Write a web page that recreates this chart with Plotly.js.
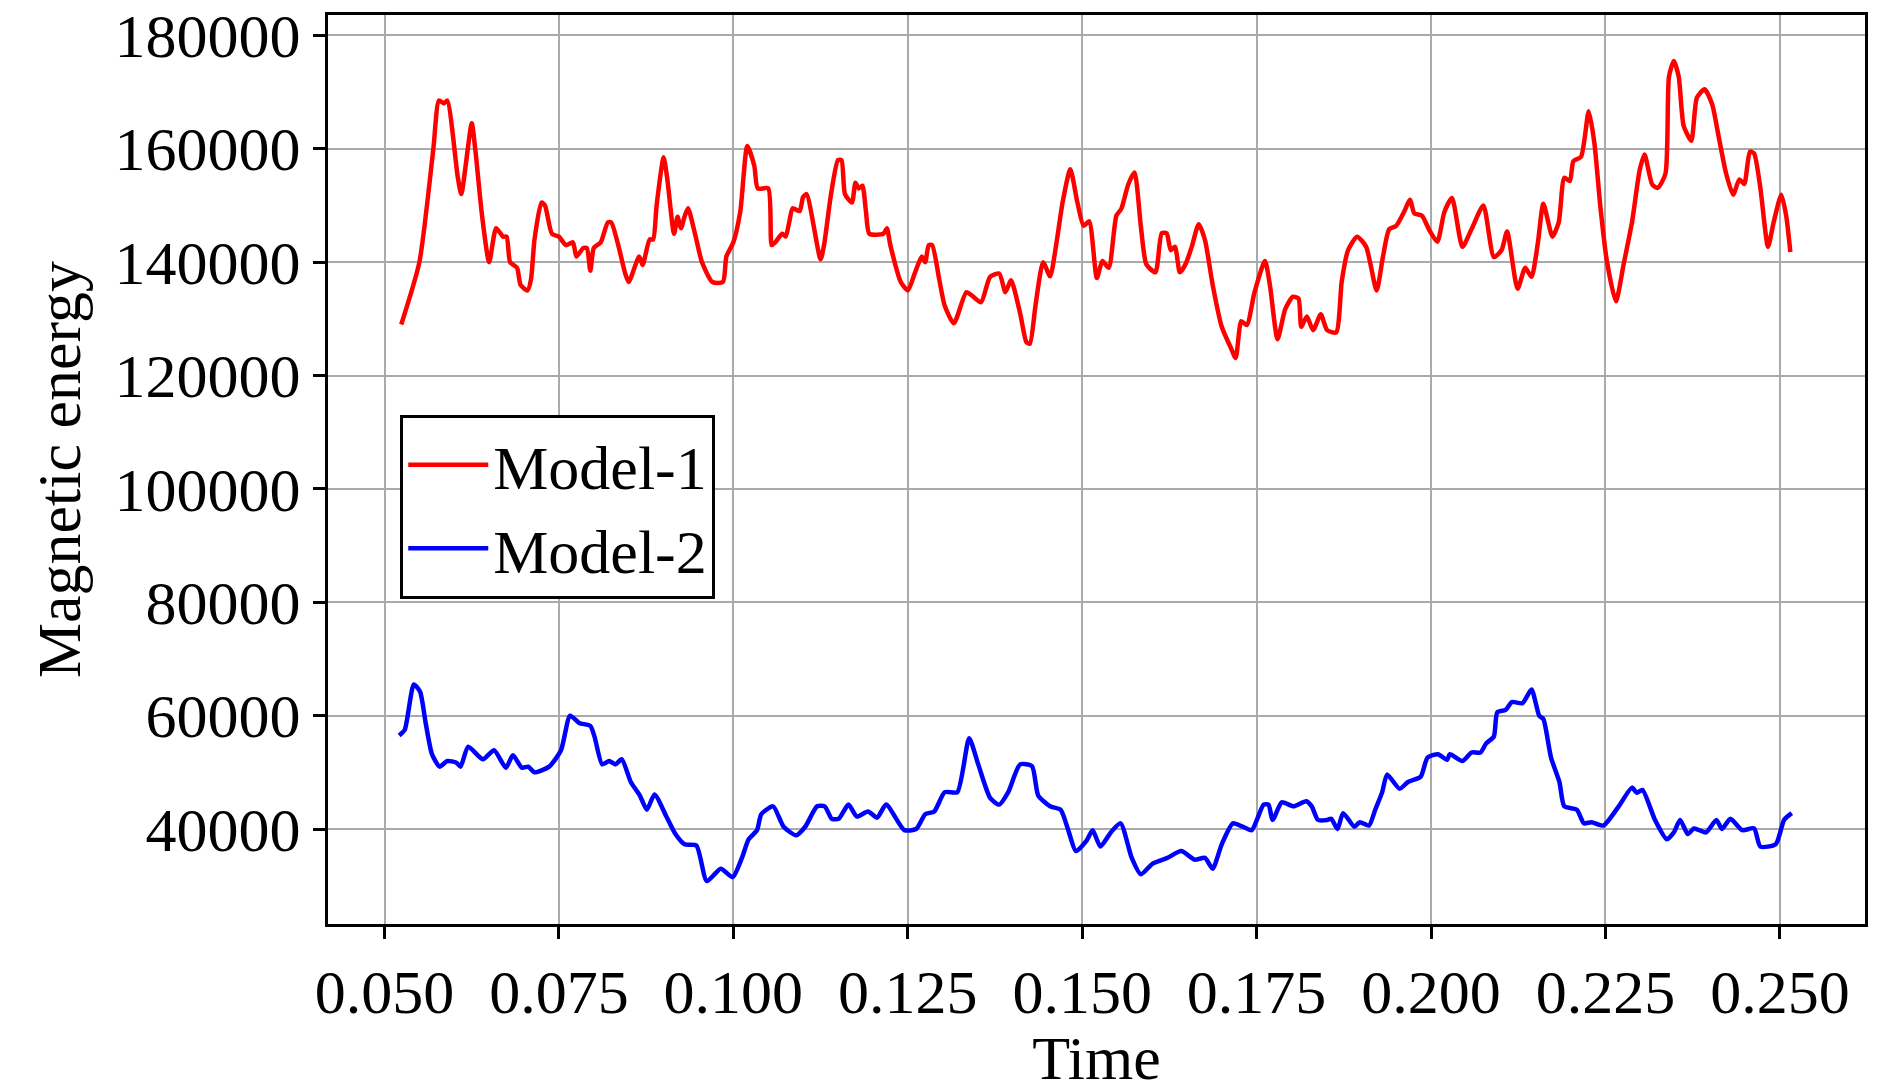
<!DOCTYPE html>
<html>
<head>
<script src="https://cdn.plot.ly/plotly-3.0.1.min.js"></script>
<style>body{margin:0;background:#fff}</style>
</head>
<body>
<div id="figure" style="width:1890px;height:1092px"></div>
<script>
FIGURE = document.getElementById('figure')

// Model-1 (red)
let t1 = [0.0524,0.055,0.057,0.0578,0.0585,0.059,0.0605,0.061,0.0625,0.063,0.064,0.065,0.066,0.067,0.0675,0.068,0.069,0.0695,0.0705,0.071,0.0715,0.0725,0.073,0.074,0.075,0.076,0.077,0.0775,0.0785,0.079,0.0795,0.080,0.081,0.082,0.0825,0.0835,0.0845,0.085,0.0865,0.087,0.088,0.0885,0.089,0.090,0.0905,0.0915,0.092,0.0925,0.093,0.0935,0.0945,0.0955,0.097,0.0985,0.099,0.100,0.101,0.102,0.103,0.1035,0.105,0.1055,0.106,0.107,0.1075,0.108,0.1085,0.1095,0.110,0.1105,0.1125,0.113,0.114,0.115,0.1155,0.116,0.117,0.1175,0.118,0.1185,0.119,0.1195,0.1215,0.122,0.1225,0.124,0.125,0.126,0.127,0.1275,0.128,0.1285,0.1295,0.1303,0.1316,0.1334,0.1343,0.1355,0.1368,0.1381,0.139,0.1398,0.1411,0.142,0.1425,0.1433,0.1444,0.1454,0.1463,0.1472,0.1483,0.1493,0.1502,0.151,0.1521,0.1529,0.1538,0.1549,0.1556,0.1566,0.1575,0.1584,0.1592,0.1605,0.1614,0.1621,0.1627,0.1633,0.164,0.1648,0.1657,0.1667,0.1676,0.1687,0.17,0.1713,0.172,0.1728,0.1736,0.1747,0.1762,0.1769,0.178,0.1791,0.1802,0.181,0.1814,0.1822,0.1831,0.1842,0.1851,0.1864,0.1872,0.1881,0.1894,0.1907,0.1922,0.1931,0.194,0.195,0.1961,0.197,0.1976,0.1987,0.1997,0.2009,0.2019,0.203,0.2045,0.2058,0.2075,0.209,0.2101,0.2109,0.2124,0.2135,0.2144,0.2153,0.2161,0.2174,0.2183,0.2191,0.2199,0.2204,0.2215,0.2226,0.2234,0.2243,0.2252,0.2265,0.2276,0.2288,0.2299,0.2306,0.2317,0.2325,0.2336,0.2341,0.2348,0.2355,0.2362,0.2373,0.2381,0.2392,0.2403,0.2412,0.2423,0.2433,0.2442,0.2449,0.2457,0.2463,0.2472,0.2483,0.2491,0.2502,0.2509,0.2515]
let e1 = [129000,140000,160000,168500,168000,168500,155000,152000,164500,160000,148000,140000,146000,144500,144500,140000,139000,136000,135000,137000,144000,150500,150000,145000,144500,143000,143500,141000,142500,142500,138500,142500,143500,147000,147000,143000,138000,136500,141000,139500,144000,144000,150000,158500,155000,145000,148000,146000,148000,149500,145000,140000,136500,136500,141000,143500,149000,160500,157000,153000,153000,143000,143500,145000,144500,147000,149500,149000,151500,152000,140500,143000,152000,158000,158000,152000,150500,154000,153000,153500,149000,145000,145000,146000,143000,136500,135000,138000,141000,140000,143000,143000,137000,132300,129200,134700,134000,132900,137400,138000,134700,136800,131000,125900,125600,132300,140000,137500,143300,150600,156400,150600,146400,147200,137200,140200,139000,148200,149400,153700,155800,146400,139600,138200,145100,145100,142100,142700,138200,139600,142700,146700,143900,136000,128600,124900,123100,129600,128900,134700,140200,136000,126400,131700,133900,133600,128600,130400,128000,130800,128000,127600,136600,142100,144500,142700,135000,140900,145800,146400,148800,151000,148600,148200,145800,143600,148800,151300,142700,145800,150000,140900,142100,145400,135300,139000,137400,143300,150300,144500,147000,154900,154300,157800,158600,166600,161100,149400,140200,133100,139600,147000,156200,159000,153700,153100,155600,172700,175500,172700,164100,161400,169000,170500,167800,162300,155600,151900,154600,153800,159500,159200,153100,142700,147000,151900,148200,141800]

// Model-2 (blue)
let t2 = [0.0521,0.0529,0.0542,0.0551,0.0559,0.0568,0.0579,0.059,0.0603,0.0609,0.062,0.0641,0.0657,0.0674,0.0684,0.0697,0.0706,0.0715,0.0736,0.0753,0.0766,0.0779,0.0795,0.0801,0.0812,0.0822,0.0831,0.084,0.0853,0.0866,0.0876,0.0887,0.0904,0.0917,0.093,0.0947,0.0962,0.0982,0.0999,0.1012,0.1022,0.1034,0.104,0.1057,0.1072,0.109,0.1103,0.112,0.1131,0.1141,0.1151,0.1165,0.1177,0.1193,0.1206,0.1219,0.1245,0.1262,0.1275,0.1288,0.1303,0.1321,0.1338,0.1351,0.1368,0.1381,0.1394,0.1411,0.1428,0.1437,0.1454,0.1469,0.148,0.1491,0.1506,0.1515,0.1526,0.1541,0.1555,0.1571,0.1584,0.1601,0.1622,0.1642,0.1661,0.1676,0.1687,0.17,0.1716,0.173,0.1743,0.176,0.1767,0.1773,0.1786,0.1803,0.1821,0.1829,0.1838,0.1851,0.1857,0.1866,0.1874,0.189,0.1898,0.1911,0.192,0.193,0.1937,0.1955,0.1967,0.1985,0.1995,0.201,0.2023,0.2027,0.2045,0.2058,0.2071,0.2079,0.209,0.2095,0.2107,0.2116,0.2131,0.2144,0.2155,0.2161,0.2172,0.2184,0.2191,0.2209,0.2219,0.223,0.2247,0.2269,0.2288,0.2295,0.2303,0.2321,0.2338,0.2348,0.2357,0.2368,0.2377,0.2394,0.2409,0.2417,0.2429,0.2446,0.2463,0.2472,0.2494,0.2506,0.2517]
let e2 = [56500,57500,65500,64200,58700,53200,51000,52000,51700,51000,54500,52300,53900,50800,53000,50800,51000,50000,51000,53900,60000,58700,58200,56300,51400,52000,51400,52300,48300,45900,43400,46100,42200,39100,37300,37100,30800,33000,31500,34800,38200,39800,42600,44000,40400,38900,40400,44000,44000,41800,41800,44300,42200,43100,42000,44300,39800,40000,42600,43100,46500,46500,56000,51400,45500,44300,46500,51400,51100,45900,44000,43400,39800,36100,37900,39800,36900,39400,41000,34900,32000,33900,34900,36100,34600,34900,33000,37300,41000,40400,39800,44300,44300,41600,44700,44000,44900,44000,41600,41600,41800,40000,42800,40400,41200,40600,43400,46500,49600,47100,48300,49200,52600,53200,52200,53200,52000,53500,53500,55100,56300,60600,61000,62400,62200,64600,60000,59400,52600,48300,44000,43400,41000,41200,40600,44000,47300,46400,46900,41600,38200,39400,41600,39100,40100,39400,41600,40000,41800,39800,40100,36900,37300,41600,42800]

let xTicks = [0.050,0.075,0.100,0.125,0.150,0.175,0.200,0.225,0.250]
let yTicks = [40000,60000,80000,100000,120000,140000,160000,180000]

let font = {family: 'Liberation Serif, Times New Roman, serif', size: 62, color: '#000'}

let traces = [
    {x: t1, y: e1, name: 'Model-1', mode: 'lines', line: {color: '#ff0000', width: 4.5, shape: 'spline', smoothing: 0.6}},
    {x: t2, y: e2, name: 'Model-2', mode: 'lines', line: {color: '#0000ff', width: 4.5, shape: 'spline', smoothing: 0.6}}
]

let axisCommon = {
    showline: true, mirror: true, linecolor: '#000', linewidth: 3,
    showgrid: true, gridcolor: '#aaaaaa', gridwidth: 2,
    ticks: 'outside', ticklen: 12, tickwidth: 3, tickcolor: '#000',
    zeroline: false, tickfont: font
}

let layout = {
    width: 1890, height: 1092,
    margin: {l: 328, r: 25, t: 15, b: 168},
    paper_bgcolor: '#fff', plot_bgcolor: '#fff',
    font: font,
    showlegend: true,
    legend: {x: 0.047, y: 0.56, xanchor: 'left', yanchor: 'top',
             bordercolor: '#000', borderwidth: 3, bgcolor: '#fff', font: font,
             itemwidth: 80, tracegroupgap: 0},
    xaxis: Object.assign({}, axisCommon, {
        range: [0.0419, 0.2622], tickvals: xTicks,
        ticktext: xTicks.map(v => v.toFixed(3)),
        title: {text: 'Time', font: font, standoff: 4}
    }),
    yaxis: Object.assign({}, axisCommon, {
        range: [23240, 183600], tickvals: yTicks,
        ticktext: yTicks.map(v => String(v)),
        title: {text: 'Magnetic energy', font: font, standoff: 14}
    })
}

Plotly.newPlot(FIGURE, traces, layout, {staticPlot: true});
</script>
</body>
</html>
